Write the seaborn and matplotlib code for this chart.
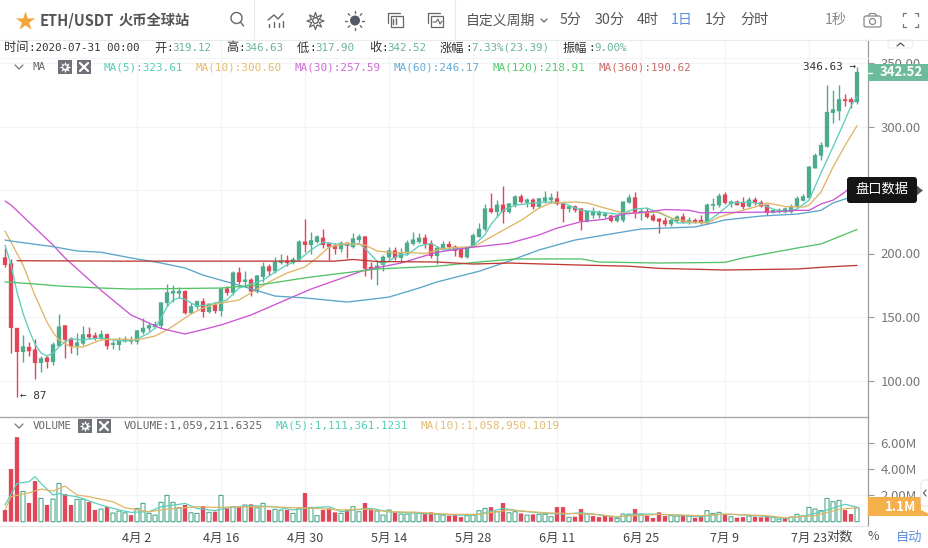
import numpy as np, pandas as pd
import matplotlib
matplotlib.use("Agg")
import matplotlib.pyplot as plt
from matplotlib.patches import Rectangle, FancyBboxPatch, Circle, Polygon
import seaborn as sns

# ---------- data ----------
opens = [196.5,191.7,141,122.4,126,124,113.8,117.7,114.6,127,143,132.6,127,129,136,135,133,136,128,128,131,130.5,130.5,138,141,142,143,161,168.5,168.5,
 170,153,158,162,154,159.4,154.7,172,169,184.6,177.6,179,170,181.5,189.4,186,192.5,194,192.5,195,209,206.7,209,212,207.5,206,203.5,208,205,210.6,
 213,189,188,191,197,202,196.5,200,207.5,209,212,207.5,198,204,207,205,203,197,205,213,219,235,232.6,238,232.6,238,244.5,240,242,236.7,
 241,242,243,239,235,236.7,235,225.6,230,230,229.5,229.5,225.6,226,240,243.7,232,232.6,229.5,227,225.6,223,225.6,228.7,224.8,226,226,224,237.6,238,
 246,239,240.5,239.8,237,242,239.8,238,232,232.6,233.4,232.6,236.6,241.5,243.7,267,277,284,310.7,312,321,321,319.12]
highs = [204.3,195.7,141.5,135.8,130,132.7,119,119,130,152.4,144,134,137.4,143,142,138,140,137.5,132,134,135,135,140,149,145,147,161.5,176,175,174,
 171,161,163,165,161,161.8,172.5,174.4,186,189,186,180.7,183,193,192,197,199.6,198.8,197,210.6,227,217,214.6,219,209,208,210,209,216,215,
 213.5,193,195,199,205,205,204,210.6,217,216,215,210.6,206,210,210,207,204,206,216,224,239,247.6,242,253,240,246,247,243.7,243.7,243.5,
 249,247.6,249,239.5,238,238,236,233.5,236.6,234,232.6,230,230,240.5,247,248.4,236,236,232,228,228.7,227,230,232,228.7,227.9,230,239.8,243.7,247.6,
 248.4,242,242,244.5,244.5,244.5,242,238.5,234,235.5,237,239,245,247,269,279,288,333,329,333,325.6,323,346.63]
lows = [189.4,121.7,87,114.6,119,101.2,106.7,109.8,112,127,117.7,121.6,120,128,132.7,132,132,125,125,124,130,129,129,137,139,141,141,159,162,165,
 152,152,156,150,153,153,151,167,167,176,173.6,166.5,169,177.6,183,185,191.7,190,191.7,194,201,200,208,204,195,200,201,196.5,204,209,
 182,180,175,186,196,195,193,199,206.7,208,204,196.5,192,203.5,203,198,196.5,196.5,205,213,218,232,229,224,232,237,240,237,235,236,
 240,240,238,225,233,232.6,218.5,225,228,228,228,225,225,225,240,228,226,228,225.5,216,222,222,224.8,224,223,224,223,223,234,236.6,
 239,236.6,238,235,237,238,236.5,230,231.5,232,232,232,235.5,241,243,267,274,284,303,305,316,314.5,317.9]
closes = [190.9,141.3,122.4,126.4,123,113.8,117,114.6,128,142,132,127,129.5,135.8,134,133,136,127,129,131,132,131.8,139,141,143,144,161,169,170,170,
 153,158,162,154,160,154.7,172,169,184.6,177.6,179,170,182.3,189.4,186,193,194,192.5,195,209,206.7,210,213,206.7,205,203.5,208,206,211.4,213,
 188,187,190,197,202,196.5,200.4,208,210.6,212,207.5,198,204,207,205,202,197,204,214,219,235,232.6,238,232.6,239,244.5,240.5,242,236.7,243,
 243.7,243.7,239,235,236.7,234,225.6,233,232.6,232,231,225.6,229.5,240.5,243.7,232,233,228.7,226,225,223,226,228.7,224.8,226,224.8,224,238,238.4,245,
 239.8,240.5,238,236.6,242,239.8,237,232,233.7,234,235,236.6,243,244.5,268,277,285,311,313,321,320,319.12,342.52]

ma5_i = [0,1,2,3,4,5,6,7,8,9,10,11,13,14,16,18,20,22,23,24,25,26,27,28,29,30,31,32,34,35,37,39,41,43,45,47,49,51,53,55,58,59,60,62,63,66,67,69,71,73,76,78,80,81,83,85,88,91,93,96,99,102,103,105,107,109,111,112,115,117,119,121,124,126,128,130,132,134,136,138,140,141,142]
ma5_v = [206.7,191,169.7,153,139.8,128.7,121.7,119.3,121.6,126.4,130.3,132.7,131.9,132.7,133.5,132,131,132.7,135,137.4,141.3,149,158,163.4,165,164,161,158.7,159.4,161,163.4,172.8,176,179,185.4,191,195,202.8,209,207.5,206.7,208,204,194,191.7,199.5,198.8,205.8,208,202.8,204,206,214.6,223,234,238,239.8,240.6,239.8,234,232.7,231,231.9,235,235.8,231.9,228,224,224.3,224.8,231.8,239.8,240.6,239,235,232.7,235,242,263.4,283.9,305,316,323.61]
ma10_i = [0,1,3,5,7,8,9,11,13,16,19,22,25,27,29,31,33,35,37,39,41,44,47,50,52,54,57,60,62,65,67,70,73,76,78,81,84,86,89,91,95,97,100,103,106,109,111,114,117,119,122,125,127,129,130,133,134,136,138,140,142]
ma10_v = [217.7,209,191,167,146,138,132,126.4,126.4,132,132.7,132,135,139.8,146,152.4,157,160,161.8,163.4,169,177.6,184.6,189.4,196.5,205,208,206.7,202,200.4,201,200,204,205,205,213,220.9,226,235.8,239.8,240.6,239.8,235.8,231.9,231.9,232.7,228,224.8,224,228.7,232.7,236.6,239.8,238,237,236.6,238,248.4,268,285,300.6]
ma30_i = [0,1,8,10,16,21,26,30,34,36,41,51,60,66,72,78,84,89,92,96,100,103,107,110,114,116,128,132,134,136,138,140,142]
ma30_v = [241.3,238.2,206.7,196.5,171,151.6,141,136.6,141.3,143.7,151.6,172,187,192.5,201,205,208,214.6,220,225,227,231,232.7,234.6,234,232,232.7,234,234,239,242,248.4,257.59]
ma60_i = [0,1,8,12,16,21,26,30,33,36,39,45,50,57,60,64,69,72,79,84,89,95,100,106,110,115,117,120,126,132,136,138,140,142]
ma60_v = [210.6,209.8,205.4,202,201,196.5,192.5,188.6,183,179,175,166.5,165,161.8,163.4,165.7,172.8,177.6,186,194,202.8,210.6,214.6,219.3,220,220.9,223,226.4,229.5,231,234,239.8,242.9,246.17]
ma120_i = [0,5,9,16,21,36,42,51,62,72,79,85,96,99,109,120,123,132,136,142]
ma120_v = [177.6,176,174.4,172.8,172,172.8,175,181.5,187.8,190,193.3,195.7,195.7,193.3,192.5,193,196.5,204.3,207.5,218.91]
ma360_i = [2,19,36,55,58,62,72,78,84,95,104,109,120,132,137,142]
ma360_v = [194.3,194,194,194,195.3,193.7,193.3,191.7,192.5,191,190,188.3,187,187.8,189.4,190.62]

volume = [.89,4.0,6.43,2.3,1.42,3.09,1.77,1.27,1.72,2.91,2.1,1.27,1.7,1.72,1.49,.89,.96,1.11,.66,.81,.68,.5,1.0,1.39,.63,.5,1.47,2.0,1.47,1.06,
 1.27,.68,.63,1.19,.71,.76,2.0,1.01,1.14,1.14,1.27,1.32,1.06,1.39,.89,.94,.89,.89,.63,1.06,2.18,1.09,.46,.89,1.01,.71,.63,.89,1.14,.76,
 1.42,.96,.81,.5,.89,.71,.58,.58,.71,.63,.58,.71,.56,.5,.46,.5,.35,.46,.5,.84,1.01,1.11,.76,1.42,.68,.76,.63,.5,.56,.56,
 .56,.38,1.11,1.11,.33,.38,.96,.58,.43,.35,.5,.35,.25,.58,.58,.96,.58,.46,.28,.71,.43,.46,.43,.5,.43,.3,.38,.84,.63,.71,
 .58,.38,.3,.35,.43,.38,.33,.43,.33,.2,.25,.35,.56,.43,1.09,.96,.84,1.77,1.52,1.62,.89,.58,1.06]
vol_red = {0,1,2,4,5,7,10,11,14,15,17,21,30,33,35,37,39,41,44,47,50,53,54,55,57,60,61,65,70,71,74,75,76,81,83,86,88,92,93,95,96,98,99,100,101,105,107,108,109,110,113,115,116,120,122,123,125,126,127,130,140,141}

vma5_i = [0,2,4,5,6,8,9,10,12,14,16,19,21,24,26,29,30,32,35,37,41,45,48,51,54,56,58,61,64,67,72,76,79,83,86,90,93,96,100,102,105,108,112,116,119,121,126,130,134,137,140,142]
vma5_v = [1.27,2.91,3.04,3.42,2.91,2.03,2.15,2.03,1.9,1.57,1.27,.89,.71,.76,1.14,1.32,1.39,1.01,.84,1.06,1.22,1.14,.89,1.06,1.14,.76,.89,1.01,.76,.68,.58,.5,.56,1.01,.81,.63,.58,.68,.46,.33,.58,.58,.5,.38,.56,.56,.43,.25,.5,.89,1.32,1.11]
vma10_i = [0,1,4,6,8,10,12,14,18,20,24,27,30,32,35,38,44,48,52,56,60,64,69,74,79,84,90,93,98,102,109,116,120,127,130,135,139,142]
vma10_v = [.89,1.9,2.2,2.48,2.33,2.71,2.03,1.9,1.52,1.06,.76,.96,1.06,1.14,1.09,1.11,1.14,1.06,1.01,.89,.96,.76,.71,.56,.56,.89,.68,.63,.58,.38,.56,.46,.58,.46,.3,.46,.94,1.06]

price_ticks = [100,150,200,250,300,350]
vol_ticks = [2,4,6]
vol_tick_labels = ["2.00M","4.00M","6.00M"]
date_idx = [22,36,50,64,78,92,106,120,134]
date_labels = ["4月 2","4月 16","4月 30","5月 14","5月 28","6月 11","6月 25","7月 9","7月 23"]

# ---------- style ----------
sns.set_theme(style="white")
CJK = ["Noto Sans CJK SC", "DejaVu Sans"]
MONO = ["DejaVu Sans Mono", "Noto Sans CJK SC"]
plt.rcParams["font.family"] = CJK
GREEN, RED = "#4DAA8C", "#E04558"
W, H = 929, 548
fig = plt.figure(figsize=(W/100, H/100), dpi=100, facecolor="white")
def rect(l, t, r, b):
    return [l/W, 1-b/H, (r-l)/W, (b-t)/H]

ax = fig.add_axes(rect(0, 40, 868, 417))
ax2 = fig.add_axes(rect(0, 417, 868, 526))
XL = (-5/6, (868-5)/6)
ax.set_xlim(*XL); ax2.set_xlim(*XL)
ax.set_ylim(100+(380.5-417)/1.27, 100+(380.5-40)/1.27)
ax2.set_ylim((521.7-526)/13.15, (521.7-417)/13.15)

# ---------- candles ----------
idx = np.arange(len(closes))
o, h, l, c = map(np.array, (opens, highs, lows, closes))
up = c >= o
cols = np.where(up, GREEN, RED)
ax.vlines(idx, l, h, colors=cols, lw=1.0, zorder=2)
ax.bar(idx, np.abs(c-o)+0.5, bottom=np.minimum(o, c), width=0.72, color=cols, linewidth=0, zorder=2.1, snap=False)

# ---------- MA lines ----------
ma_cols = {"MA5":"#5CCFBC","MA10":"#E0B566","MA30":"#CB55D2","MA60":"#5BA5C9","MA120":"#52C267","MA360":"#BE3B33"}
ma_frames = []
for n, xs, ys in [("MA5",ma5_i,ma5_v),("MA10",ma10_i,ma10_v),("MA30",ma30_i,ma30_v),("MA60",ma60_i,ma60_v),("MA120",ma120_i,ma120_v),("MA360",ma360_i,ma360_v)]:
    ma_frames.append(pd.DataFrame({"i":xs,"v":ys,"ma":n}))
sns.lineplot(data=pd.concat(ma_frames), x="i", y="v", hue="ma", palette=ma_cols, estimator=None, sort=False,
             legend=False, lw=0.95, ax=ax, zorder=3)

# ---------- volume ----------
vols = np.array(volume)
is_red = np.array([i in vol_red for i in range(len(vols))])
vi = np.arange(len(vols))
ax2.bar(vi[is_red], vols[is_red], width=0.72, color=RED, linewidth=0, zorder=2, snap=False)
ax2.bar(vi[~is_red], vols[~is_red], width=0.68, facecolor="white", edgecolor=GREEN, linewidth=0.8, zorder=2, snap=False)
vf = pd.concat([pd.DataFrame({"i":vma5_i,"v":vma5_v,"ma":"VMA5"}), pd.DataFrame({"i":vma10_i,"v":vma10_v,"ma":"VMA10"})])
sns.lineplot(data=vf, x="i", y="v", hue="ma", palette={"VMA5":"#5CCFBC","VMA10":"#E0B566"}, estimator=None, sort=False,
             legend=False, lw=0.9, ax=ax2, zorder=3)

# ---------- axes ----------
for a in (ax, ax2):
    for s in ("top","left"):
        a.spines[s].set_visible(False)
    a.spines["right"].set_color("#9a9a9a"); a.spines["right"].set_linewidth(0.9)
    a.yaxis.tick_right()
    a.set_xlabel(""); a.set_ylabel("")
    a.set_xticks(date_idx)
    a.grid(True, color="#F1F3F5", lw=0.8, zorder=0)
    a.set_axisbelow(True)
    a.tick_params(axis="y", length=4, width=0.8, color="#9a9a9a", labelcolor="#777777", labelsize=9.5, pad=5, right=True)
    a.tick_params(axis="x", length=0)
    a.set_facecolor("none")
ax.spines["bottom"].set_visible(False)
ax.set_xticklabels([])
ax.set_yticks(price_ticks)
ax.set_yticklabels([f"{v:.2f}" for v in price_ticks])
ax2.set_yticks(vol_ticks); ax2.set_yticklabels(vol_tick_labels)
ax2.spines["top"].set_visible(True); ax2.spines["top"].set_color("#aaaaaa"); ax2.spines["top"].set_linewidth(1.0)
ax2.spines["bottom"].set_color("#E4E6E8"); ax2.spines["bottom"].set_linewidth(0.8)
ax2.set_xticklabels(date_labels, fontsize=9, color="#444444")
ax2.tick_params(axis="x", pad=4)

# ---------- overlay chrome in pixels ----------
ov = fig.add_axes([0, 0, 1, 1], facecolor="none")
ov.set_xlim(0, W); ov.set_ylim(H, 0); ov.axis("off")
def T(x, y, s, color="#444444", size=9, fam=CJK, ha="left", weight="normal"):
    ov.text(x, y, s, color=color, fontsize=size, family=fam, ha=ha, va="center", fontweight=weight)
def L(xs, ys, color="#666666", lw=1.0):
    ov.plot(xs, ys, color=color, lw=lw, solid_capstyle="round")
LINE = "#E8EAEC"
L([0, W], [39.5, 39.5], LINE, 0.9)
L([254.5, 254.5], [0, 39], LINE, 0.9); L([455.5, 455.5], [0, 39], LINE, 0.9)

ov.scatter([25], [21], marker="*", s=210, color="#F2A63C", linewidths=0)
T(40, 20.5, "ETH/USDT", "#555555", 10.5, weight="bold")
T(119, 21, "火币全球站", "#555555", 10.3, weight="bold")
I = "#666666"
ov.add_patch(Circle((236.5, 18), 5.5, fill=False, ec=I, lw=1))
L([240.5, 243.5], [22, 26], I)
L([268, 274, 278, 283], [20, 15, 19, 13.5], I)
for x, t in zip([269, 274, 279, 283], [24, 22, 23, 21]):
    L([x, x], [t, 27], I)
ov.scatter([315.5], [21], marker=(8, 1, 0), s=150, facecolor="none", edgecolor=I, lw=0.9)
ov.add_patch(Circle((315.5, 20.5), 2.8, fill=False, ec=I, lw=1))
ov.add_patch(Circle((355, 20.5), 5, color="#555a66", lw=0))
for a_ in np.arange(0, 2*np.pi, np.pi/4):
    L([355+7.5*np.cos(a_), 355+9.5*np.cos(a_)], [20.5+7.5*np.sin(a_), 20.5+9.5*np.sin(a_)], I)
for x0 in (388, 428):
    ov.add_patch(Rectangle((x0+3, 16), 12, 11, fill=False, ec=I, lw=0.9))
    L([x0, x0, x0+12], [23, 13, 13], I, 0.9)
L([393, 393], [19, 24], I); L([396, 396], [18, 24], I)
L([433, 436, 438, 440, 442], [22, 22, 19, 24, 21], I, 0.8)
T(466, 20.5, "自定义周期", "#555555", 10)
L([541, 544, 547], [19, 22, 19], I, 0.9)
for x, s, col in [(560,"5分","#555555"),(595,"30分","#555555"),(637,"4时","#555555"),(671,"1日","#5B8FDB"),(705,"1分","#555555"),(740,"分时","#555555"),(825,"1秒","#888888")]:
    T(x, 20, s, col, 10.2)
ov.add_patch(FancyBboxPatch((864, 16), 17, 11, boxstyle="round,pad=0,rounding_size=2", fill=False, ec="#888888", lw=0.9))
ov.add_patch(Circle((872.5, 21.5), 3, fill=False, ec="#888888", lw=0.9))
L([868, 870, 875, 877], [16, 13.5, 13.5, 16], "#888888", 0.9)
for sx, sy in [(903,13),(918,13),(903,27),(918,27)]:
    dx = 3 if sx < 910 else -3
    dy = 3 if sy < 20 else -3
    L([sx+dx, sx], [sy, sy], "#777777", 0.9); L([sx, sx], [sy, sy+dy], "#777777", 0.9)

G = "#6BB39A"
T(4, 48, "时间", "#333333", 8.8); T(29, 48, ":2020-07-31 00:00", "#333333", 7.8, MONO)
for lab, x, val, xv in [("开",154,":319.12",166),("高",226,":346.63",238),("低",297,":317.90",309),("收",369,":342.52",381)]:
    T(x, 48, lab, "#333333", 8.8); T(xv, 48, val[0], "#333333", 7.8, MONO); T(xv+6.5, 48, val[1:], G, 7.8, MONO)
T(440, 48, "涨幅", "#333333", 8.8); T(465, 48, ":", "#333333", 7.8, MONO); T(471, 48, "7.33%(23.39)", G, 7.8, MONO)
T(563, 48, "振幅", "#333333", 8.8); T(588, 48, ":", "#333333", 7.8, MONO); T(594, 48, "9.00%", G, 7.8, MONO)
L([0, 868], [57.5, 57.5], "#F3F4F6", 0.8)

def chev(x, y):
    L([x-4, x, x+4], [y-2, y+2, y-2], "#777777", 0.9)
def gearx(x1, x2, y):
    ov.add_patch(Rectangle((x1, y-7), 14, 14, color="#6E7278", lw=0))
    ov.scatter([x1+7], [y], marker=(8, 1, 0), s=70, color="white", lw=0)
    ov.add_patch(Circle((x1+7, y), 1.8, color="#6E7278", lw=0))
    ov.add_patch(Rectangle((x2, y-7), 14, 14, color="#6E7278", lw=0))
    L([x2+3, x2+11], [y-4, y+4], "white", 1.6); L([x2+3, x2+11], [y+4, y-4], "white", 1.6)

chev(19, 67); T(33, 67, "MA", "#666666", 7.8, MONO); gearx(58, 77, 67)
for x, s, col in [(104,"MA(5):323.61","#57CDB6"),(196,"MA(10):300.60","#E3BC6E"),(295,"MA(30):257.59","#CF6BD6"),(394,"MA(60):246.17","#62ACD3"),(493,"MA(120):218.91","#55C76E"),(599,"MA(360):190.62","#C96A66")]:
    T(x, 67, s, col, 7.9, MONO)
chev(19, 426); T(33, 426, "VOLUME", "#666666", 7.8, MONO); gearx(78, 97, 426)
T(124, 426, "VOLUME:1,059,211.6325", "#666666", 7.9, MONO)
T(276, 426, "MA(5):1,111,361.1231", "#57CDB6", 7.9, MONO)
T(421, 426, "MA(10):1,058,950.1019", "#E3BC6E", 7.9, MONO)

T(803, 67, "346.63 →", "#333333", 7.9, MONO)
T(20, 396, "← 87", "#333333", 7.9, MONO)

ov.add_patch(Rectangle((868, 63.5), 61, 17, color="#6DBB9D", lw=0))
L([868, 872], [72.5, 72.5], "white", 1)
T(880, 72, "342.52", "white", 9.5, weight="bold")
ov.add_patch(FancyBboxPatch((847, 177), 70, 26, boxstyle="round,pad=0,rounding_size=3", color="#151515", lw=0))
ov.add_patch(Polygon([[917, 186], [923, 190.5], [917, 195]], color="#555555", lw=0))
T(855, 189.5, "盘口数据", "white", 9.5)
ov.add_patch(Polygon([[868, 497], [921, 497], [921, 510], [929, 514], [929, 516], [868, 516]], color="#F5B04C", lw=0))
T(885, 507, "1.1M", "white", 9.5, weight="bold")
ov.add_patch(FancyBboxPatch((921, 480), 9, 26, boxstyle="round,pad=0,rounding_size=3", fc="white", ec="#E8E8E8", lw=0.8))
L([926, 923.5, 926], [490, 493, 496], "#666666", 0.9)
ov.add_patch(FancyBboxPatch((888, 40), 25, 8, boxstyle="round,pad=0,rounding_size=3", fc="white", ec="#EEEEEE", lw=0.8))
L([897, 900.5, 904], [46, 43, 46], "#555555", 0.9)

T(826, 537, "对数", "#444444", 9.5)
T(868, 537, "%", "#555555", 9)
T(896, 537, "自动", "#5B8FDB", 9.5)

fig.savefig("out.png", dpi=100, facecolor="white")
